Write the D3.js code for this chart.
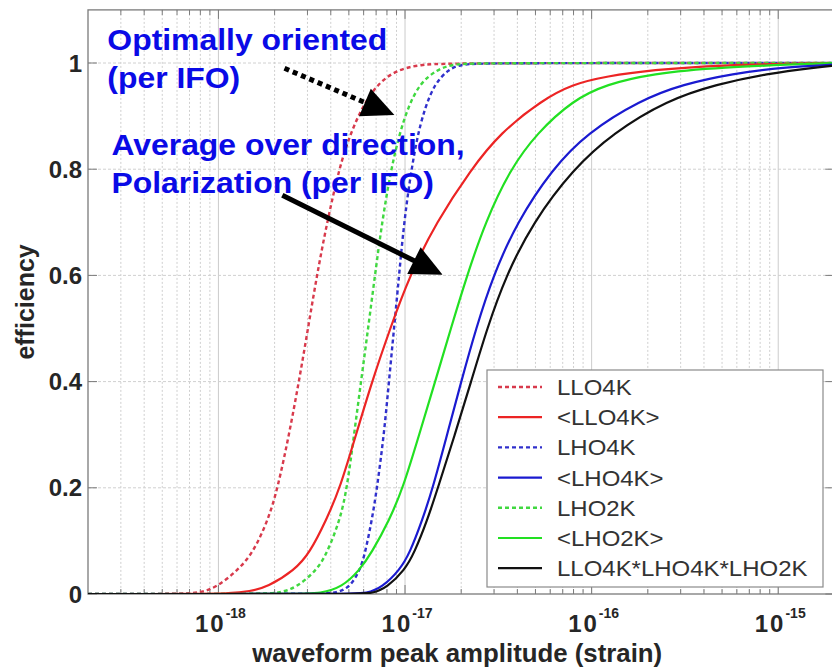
<!DOCTYPE html>
<html><head><meta charset="utf-8">
<script src="https://cdn.jsdelivr.net/npm/d3@7"></script>
<style>body{margin:0;background:#fff}svg{display:block}</style>
</head><body>
<svg id="chart" width="832" height="667"></svg>
<script>
// ---- data ----
const seriesNames = ["LLO4K", "<LLO4K>", "LHO4K", "<LHO4K>", "LHO2K", "<LHO2K>", "LLO4K*LHO4K*LHO2K"];
const seriesColors = ["#d83a4c", "#ec2424", "#3030cc", "#1a1ad0", "#40d840", "#22e022", "#111111"];
const seriesDashed = [true, false, true, false, true, false, false];

const llo4kOpt = [[2e-19,0],[6e-19,0],[7.96e-19,0.002],[9.83e-19,0.013],[1.27e-18,0.045],[1.53e-18,0.077],[1.85e-18,0.14],[2.08e-18,0.2],[2.39e-18,0.3],[2.7e-18,0.4],[3.02e-18,0.5],[3.37e-18,0.6],[3.82e-18,0.7],[4.43e-18,0.8],[5.01e-18,0.86],[5.89e-18,0.917],[7.16e-18,0.962],[9.06e-18,0.987],[1.2e-17,0.997],[1.73e-17,1],[2e-15,1]];
const llo4kAvg = [[2e-19,0],[8e-19,0],[1.15e-18,0.001],[1.47e-18,0.005],[1.83e-18,0.013],[2.56e-18,0.045],[3.08e-18,0.077],[3.79e-18,0.14],[4.49e-18,0.2],[5.46e-18,0.3],[6.65e-18,0.4],[8.32e-18,0.5],[1.06e-17,0.6],[1.47e-17,0.7],[2.26e-17,0.8],[3.23e-17,0.868],[5.42e-17,0.93],[7.9e-17,0.96],[1.2e-16,0.975],[2.12e-16,0.987],[4.68e-16,0.996],[2e-15,1]];
const lho4kOpt = [[2e-19,0],[3.5e-18,0],[4.32e-18,0.002],[5.07e-18,0.013],[5.74e-18,0.045],[6.11e-18,0.077],[6.65e-18,0.14],[7.08e-18,0.2],[7.71e-18,0.3],[8.2e-18,0.4],[8.73e-18,0.5],[9.29e-18,0.6],[9.76e-18,0.68],[1.04e-17,0.76],[1.15e-17,0.855],[1.28e-17,0.917],[1.45e-17,0.962],[1.7e-17,0.987],[1.97e-17,0.998],[2.86e-17,1],[2e-15,1]];
const lho4kAvg = [[2e-19,0],[5e-18,0],[6.22e-18,0.001],[7.57e-18,0.013],[9.35e-18,0.045],[1.06e-17,0.077],[1.24e-17,0.14],[1.41e-17,0.2],[1.68e-17,0.3],[2.0e-17,0.4],[2.4e-17,0.5],[2.97e-17,0.6],[3.98e-17,0.7],[6.14e-17,0.8],[9.44e-17,0.868],[1.82e-16,0.93],[3.08e-16,0.96],[5.7e-16,0.98],[1.06e-15,0.992],[2e-15,0.997]];
const lho2kOpt = [[2e-19,0],[1.7e-18,0],[2.14e-18,0.002],[2.64e-18,0.013],[3.37e-18,0.045],[3.82e-18,0.077],[4.49e-18,0.14],[4.89e-18,0.2],[5.33e-18,0.3],[5.81e-18,0.4],[6.34e-18,0.5],[6.9e-18,0.6],[7.53e-18,0.7],[8.41e-18,0.8],[9.4e-18,0.87],[1.04e-17,0.917],[1.2e-17,0.962],[1.48e-17,0.987],[1.79e-17,0.998],[2.52e-17,1],[2e-15,1]];
const lho2kAvg = [[2e-19,0],[2.8e-18,0],[3.48e-18,0.001],[4.62e-18,0.013],[5.7e-18,0.045],[6.61e-18,0.077],[8.26e-18,0.14],[9.76e-18,0.2],[1.19e-17,0.3],[1.45e-17,0.4],[1.76e-17,0.5],[2.15e-17,0.6],[2.69e-17,0.7],[3.66e-17,0.8],[5.09e-17,0.868],[7.94e-17,0.93],[1.2e-16,0.96],[2.12e-16,0.98],[4.68e-16,0.992],[2e-15,1]];
const combined = [[2e-19,0],[5.5e-18,0],[6.7e-18,0.001],[8.05e-18,0.013],[9.94e-18,0.045],[1.12e-17,0.077],[1.32e-17,0.14],[1.5e-17,0.2],[1.85e-17,0.3],[2.26e-17,0.4],[2.75e-17,0.5],[3.48e-17,0.6],[4.85e-17,0.7],[7.94e-17,0.8],[1.3e-16,0.868],[2.54e-16,0.93],[4.68e-16,0.96],[8.67e-16,0.98],[1.61e-15,0.992],[2e-15,0.995]];
const seriesData = [llo4kOpt, llo4kAvg, lho4kOpt, lho4kAvg, lho2kOpt, lho2kAvg, combined];

const xTickValues = [1e-18, 1e-17, 1e-16, 1e-15];
const xTickExponents = ["-18", "-17", "-16", "-15"];
const yTickValues = [0, 0.2, 0.4, 0.6, 0.8, 1];
const yTickLabels = ["0", "0.2", "0.4", "0.6", "0.8", "1"];
const xDomain = [2e-19, 2e-15];
const yDomain = [0, 1.1];

const xLabel = "waveform peak amplitude (strain)";
const yLabel = "efficiency";
const noteOptimal = ["Optimally oriented", "(per IFO)"];
const noteAverage = ["Average over direction,", "Polarization (per IFO)"];

// ---- layout ----
const svg = d3.select("#chart");
const L = 88, R = 834.4, T = 9.9, B = 594;
const x = d3.scaleLog().domain(xDomain).range([L, R]);
const y = d3.scaleLinear().domain(yDomain).range([B, T]);
const FONT = "'Liberation Sans', Arial, Helvetica, sans-serif";

svg.append("rect").attr("width", 832).attr("height", 667).attr("fill", "#fff");

const minorX = [];
for (let e = -19; e <= -15; e++) for (let m = 2; m <= 9; m++) {
  const v = m * Math.pow(10, e);
  if (v > xDomain[0] && v < xDomain[1]) minorX.push(v);
}

const grid = svg.append("g");
grid.selectAll(".vmin").data(minorX).join("line")
  .attr("x1", d => x(d)).attr("x2", d => x(d)).attr("y1", T).attr("y2", B)
  .attr("stroke", "#cfcfcf").attr("stroke-width", 1).attr("stroke-dasharray", "2,2");
grid.selectAll(".vmaj").data(xTickValues).join("line")
  .attr("x1", d => x(d)).attr("x2", d => x(d)).attr("y1", T).attr("y2", B)
  .attr("stroke", "#cccccc").attr("stroke-width", 1);
grid.selectAll(".hmaj").data(yTickValues.filter(v => v > 0)).join("line")
  .attr("x1", L).attr("x2", R).attr("y1", d => y(d)).attr("y2", d => y(d))
  .attr("stroke", "#d0d0d0").attr("stroke-width", 1).attr("stroke-dasharray", "3,2");

const axisColor = "#7a7a7a";
svg.append("rect").attr("x", L).attr("y", T).attr("width", R - L).attr("height", B - T)
  .attr("fill", "none").attr("stroke", axisColor).attr("stroke-width", 1.3);

const ticks = svg.append("g").attr("stroke", axisColor).attr("stroke-width", 1);
xTickValues.forEach(v => {
  ticks.append("line").attr("x1", x(v)).attr("x2", x(v)).attr("y1", B).attr("y2", B - 9);
  ticks.append("line").attr("x1", x(v)).attr("x2", x(v)).attr("y1", T).attr("y2", T + 9);
});
minorX.forEach(v => {
  ticks.append("line").attr("x1", x(v)).attr("x2", x(v)).attr("y1", B).attr("y2", B - 5);
  ticks.append("line").attr("x1", x(v)).attr("x2", x(v)).attr("y1", T).attr("y2", T + 5);
});
yTickValues.forEach(v => {
  ticks.append("line").attr("x1", L).attr("x2", L + 9).attr("y1", y(v)).attr("y2", y(v));
  ticks.append("line").attr("x1", R).attr("x2", R - 9).attr("y1", y(v)).attr("y2", y(v));
});

const labelColor = "#262626";
svg.append("g").selectAll("text").data(yTickValues).join("text")
  .attr("x", L - 6).attr("y", d => y(d)).attr("dy", "0.36em")
  .attr("text-anchor", "end").attr("font-family", FONT).attr("font-weight", "bold")
  .attr("font-size", 24).attr("fill", labelColor)
  .text((d, i) => yTickLabels[i]);

const xl = svg.append("g").selectAll("text").data(xTickValues).join("text")
  .attr("x", d => x(d) + 2).attr("y", B + 38)
  .attr("text-anchor", "middle").attr("font-family", FONT).attr("font-weight", "bold")
  .attr("fill", labelColor);
xl.append("tspan").attr("font-size", 24).attr("letter-spacing", 2).text("10");
xl.append("tspan").attr("font-size", 14).attr("dy", -14).text((d, i) => xTickExponents[i]);

svg.append("text").attr("x", (L + R) / 2 - 4).attr("y", 662)
  .attr("text-anchor", "middle").attr("font-family", FONT).attr("font-weight", "bold")
  .attr("font-size", 25).attr("fill", labelColor)
  .attr("textLength", 410).attr("lengthAdjust", "spacingAndGlyphs").text(xLabel);
svg.append("text").attr("transform", `translate(34,${y(0.55)}) rotate(-90)`)
  .attr("text-anchor", "middle").attr("font-family", FONT).attr("font-weight", "bold")
  .attr("font-size", 25).attr("fill", labelColor).text(yLabel);

// curves
svg.append("clipPath").attr("id", "clip").append("rect")
  .attr("x", L).attr("y", T).attr("width", R - L).attr("height", B - T);
const line = d3.line().x(d => x(d[0])).y(d => y(d[1])).curve(d3.curveBasis);
const order = [0, 2, 4, 1, 5, 3, 6];
const curves = svg.append("g").attr("clip-path", "url(#clip)");
order.forEach(i => {
  curves.append("path").datum(seriesData[i])
    .attr("d", line).attr("fill", "none")
    .attr("stroke", seriesColors[i])
    .attr("stroke-width", seriesDashed[i] ? 2.4 : 2.2)
    .attr("stroke-dasharray", seriesDashed[i] ? "4,3" : null);
});

// legend
const legX = 487, legY = 370, legW = 336, legH = 217, rowH = 30.2;
const leg = svg.append("g");
leg.append("rect").attr("x", legX).attr("y", legY).attr("width", legW).attr("height", legH)
  .attr("fill", "#fff").attr("stroke", "#8a8a8a").attr("stroke-width", 1.2);
seriesNames.forEach((name, i) => {
  const cy = legY + 17 + i * rowH;
  leg.append("line").attr("x1", legX + 11).attr("x2", legX + 55).attr("y1", cy).attr("y2", cy)
    .attr("stroke", seriesColors[i]).attr("stroke-width", seriesDashed[i] ? 2.4 : 2.2)
    .attr("stroke-dasharray", seriesDashed[i] ? "4,3" : null);
  leg.append("text").attr("transform", `translate(${legX + 70},${cy}) scale(1.09,1)`)
    .attr("dy", "0.36em")
    .attr("font-family", FONT).attr("font-size", 22).attr("fill", "#333")
    .text(name);
});

// annotations (anchored in data coordinates)
const noteBlue = "#0a0ae6";
const notes = svg.append("g").attr("font-family", FONT).attr("font-weight", "bold")
  .attr("font-size", 29).attr("fill", noteBlue);
[[noteOptimal[0], 2.54e-19, 1.0245], [noteOptimal[1], 2.54e-19, 0.953],
 [noteAverage[0], 2.67e-19, 0.827], [noteAverage[1], 2.67e-19, 0.755]].forEach(n => {
  notes.append("text").attr("transform", `translate(${x(n[1])},${y(n[2])}) scale(1.1,1)`).text(n[0]);
});

function arrow(from, to, dashed) {
  const x0 = x(from[0]), y0 = y(from[1]), x1 = x(to[0]), y1 = y(to[1]);
  const dx = x1 - x0, dy = y1 - y0, len = Math.hypot(dx, dy);
  const ux = dx / len, uy = dy / len, hl = 32, hw = 15;
  const bx = x1 - ux * hl, by = y1 - uy * hl;
  svg.append("line").attr("x1", x0).attr("y1", y0).attr("x2", bx + ux * 2).attr("y2", by + uy * 2)
    .attr("stroke", "#000").attr("stroke-width", 5)
    .attr("stroke-dasharray", dashed ? "5,4" : null);
  svg.append("polygon")
    .attr("points", [[x1, y1], [bx - uy * hw, by + ux * hw], [bx + uy * hw, by - ux * hw]].map(p => p.join(",")).join(" "))
    .attr("fill", "#000");
}
arrow([2.26e-18, 0.99], [8.77e-18, 0.902], true);
arrow([2.2e-18, 0.751], [1.59e-17, 0.601], false);
</script>
</body></html>
